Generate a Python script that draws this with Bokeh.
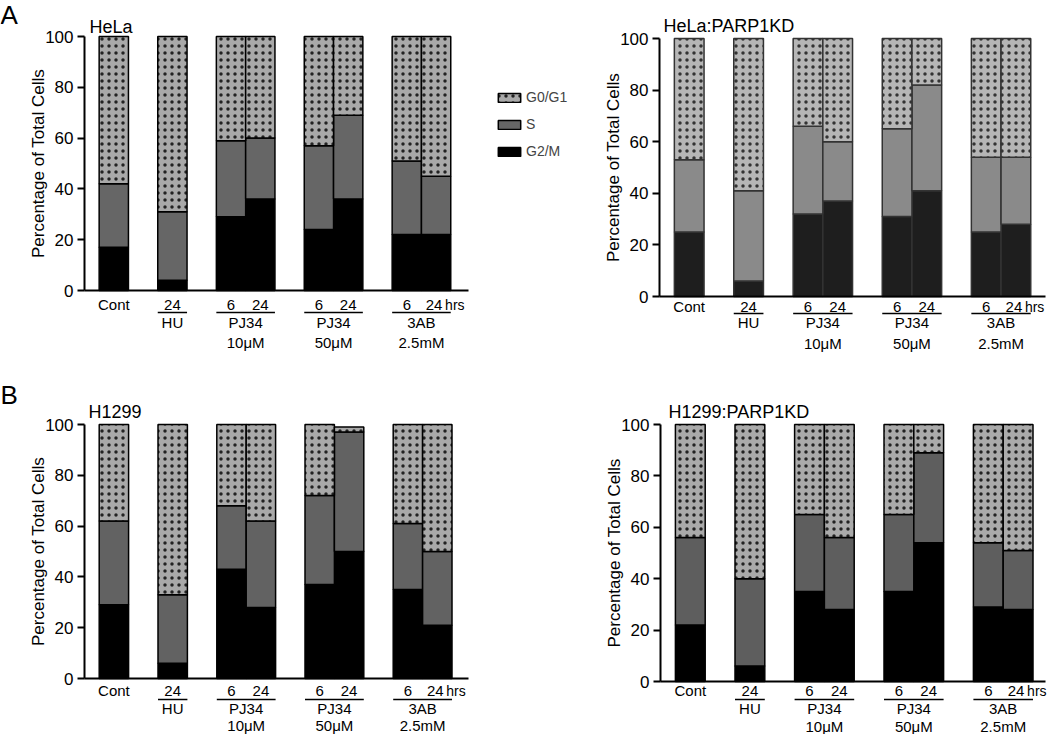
import numpy as np
from bokeh.plotting import figure
from bokeh.layouts import column, row
from bokeh.models import (Range1d, Label, Legend, LegendItem, FixedTicker,
                          ColumnDataSource)
from bokeh.core.properties import value
from bokeh.embed import file_html
from bokeh.resources import INLINE

FONT = "Liberation Sans"

# ---------------- data ----------------
bar_labels = ["Cont", "24", "6", "24", "6", "24", "6", "24"]
bar_group = [0, 1, 2, 2, 3, 3, 4, 4]
group_names = ["", "HU", "PJ34", "PJ34", "3AB"]
group_doses = ["", "", "10μM", "50μM", "2.5mM"]
time_unit = "hrs"
phases = ["G0/G1", "S", "G2/M"]
yticks = [0, 20, 40, 60, 80, 100]
y_title = "Percentage of Total Cells"

hela_g2m = [17, 4, 29, 36, 24, 36, 22, 22]
hela_s = [25, 27, 30, 24, 33, 33, 29, 23]
hela_g01 = [58, 69, 41, 40, 43, 31, 49, 55]

helakd_g2m = [25, 6, 32, 37, 31, 41, 25, 28]
helakd_s = [28, 35, 34, 23, 34, 41, 29, 26]
helakd_g01 = [47, 59, 34, 40, 35, 18, 46, 46]

h1299_g2m = [29, 6, 43, 28, 37, 50, 35, 21]
h1299_s = [33, 27, 25, 34, 35, 47, 26, 29]
h1299_g01 = [38, 67, 32, 38, 28, 2, 39, 50]

h1299kd_g2m = [22, 6, 35, 28, 35, 54, 29, 28]
h1299kd_s = [34, 34, 30, 28, 30, 35, 25, 23]
h1299kd_g01 = [44, 60, 35, 44, 35, 11, 46, 49]


def bar_positions(groups):
    pos, x, prev = [], -1, None
    for g in groups:
        x += 1 if g == prev else 2
        prev = g
        pos.append(x)
    return pos


POS = bar_positions(bar_group)


def make_panel(title, letter, g2m, s, g01, cols, W, H, ax, ax_end, y100, y0,
               bar_px, offs, title_xy, letter_y, ylab_x, legend_xy=None):
    # pixel geometry -> data ranges (frame covers the whole figure)
    sc = (y0 - y100) / 100.0
    px2x = lambda px: (px - ax) / bar_px
    px2y = lambda py: (y0 - py) / sc
    p = figure(width=W, height=H, title=None,
               x_range=Range1d(px2x(0), px2x(W)),
               y_range=Range1d(px2y(H), px2y(0)),
               output_backend="svg", toolbar_location=None,
               min_border_left=0, min_border_right=0,
               min_border_top=0, min_border_bottom=0)
    p.outline_line_color = None
    p.xgrid.visible = False
    p.ygrid.visible = False
    p.background_fill_color = "white"
    p.border_fill_color = "white"

    g2m = np.array(g2m, float)
    s = np.array(s, float)
    g01 = np.array(g01, float)
    src = ColumnDataSource(dict(x=POS, b0=np.zeros(len(POS)), t0=g2m,
                                t1=g2m + s, t2=g2m + s + g01))
    lc = cols["line"]
    r_g2m = p.vbar(x="x", bottom="b0", top="t0", width=1, source=src,
                   fill_color=cols["g2m"], line_color=lc, line_width=1.5)
    r_s = p.vbar(x="x", bottom="t0", top="t1", width=1, source=src,
                 fill_color=cols["s"], line_color=lc, line_width=1.5)
    r_g01 = p.vbar(x="x", bottom="t1", top="t2", width=1, source=src,
                   fill_color=cols["g01"], line_color=lc, line_width=1.5,
                   hatch_pattern="dot", hatch_color=cols["dot"],
                   hatch_scale=7, hatch_weight=0.55)

    # y axis drawn at x = 0
    p.yaxis.fixed_location = 0
    p.yaxis.bounds = (0, 100)
    p.yaxis.ticker = FixedTicker(ticks=yticks)
    p.yaxis.major_label_text_font = FONT
    p.yaxis.major_label_text_font_size = "17px"
    p.yaxis.major_label_text_color = "black"
    p.yaxis.major_label_standoff = 4
    p.yaxis.axis_line_width = 2
    p.yaxis.axis_line_color = "black"
    p.yaxis.major_tick_line_width = 2
    p.yaxis.major_tick_line_color = "black"
    p.yaxis.major_tick_in = 0
    p.yaxis.major_tick_out = 7
    p.yaxis.minor_tick_line_color = None

    # x axis drawn at y = 0
    p.xaxis.fixed_location = 0
    p.xaxis.bounds = (0, px2x(ax_end))
    p.xaxis.ticker = FixedTicker(ticks=[])
    p.xaxis.axis_line_width = 2
    p.xaxis.axis_line_color = "black"
    p.xaxis.major_tick_line_color = None
    p.xaxis.minor_tick_line_color = None

    # y-axis title
    p.add_layout(Label(x=px2x(ylab_x), y=50, text=y_title, angle=np.pi / 2,
                       text_font=FONT, text_font_size="17px",
                       text_align="center", text_baseline="middle",
                       text_color="black"))

    # category labels
    ty = lambda off: px2y(y0 + off)
    n = len(POS)
    lab = ColumnDataSource(dict(x=POS, y=[ty(offs[0])] * n, t=bar_labels,
                                dx=[0] * (n - 1) + [-2]))
    p.text(x="x", y="y", text="t", source=lab, x_offset="dx",
           text_align="center", text_baseline="middle", text_font=value(FONT),
           text_font_size="15px", text_color="black")
    p.text(x=[POS[-1]], y=[ty(offs[0])], text=[time_unit], x_offset=9,
           text_align="left", text_baseline="middle", text_font=value(FONT),
           text_font_size="14px", text_color="black")

    gx0, gx1, gxc, gn, gd = [], [], [], [], []
    for gi, name in enumerate(group_names):
        if not name:
            continue
        xs = [POS[i] for i in range(n) if bar_group[i] == gi]
        gx0.append(min(xs) - 0.5)
        gx1.append(max(xs) + 0.5)
        gxc.append((min(xs) + max(xs)) / 2)
        gn.append(name)
        gd.append(group_doses[gi])
    p.segment(x0=gx0, y0=[ty(offs[1])] * len(gx0), x1=gx1,
              y1=[ty(offs[1])] * len(gx0), line_color="black", line_width=1.5)
    p.text(x=gxc, y=[ty(offs[2])] * len(gxc), text=gn, text_align="center",
           text_baseline="middle", text_font=value(FONT),
           text_font_size="15px", text_color="black")
    p.text(x=gxc, y=[ty(offs[3])] * len(gxc), text=gd, text_align="center",
           text_baseline="middle", text_font=value(FONT),
           text_font_size="15px", text_color="black")

    # title and panel letter
    tx, tyy = title_xy
    p.add_layout(Label(x=px2x(tx), y=px2y(tyy), text=title, text_font=FONT,
                       text_font_size="18px", text_baseline="middle",
                       text_align="left", text_color="black"))
    if letter:
        p.add_layout(Label(x=px2x(0), y=px2y(letter_y), text=letter,
                           text_font=FONT, text_font_size="26px",
                           text_baseline="middle", text_align="left",
                           text_color="black"))

    if legend_xy is not None:
        lx, ltop = legend_xy
        spacing = 7
        leg_h = 3 * 20 + 2 * spacing
        legend = Legend(items=[LegendItem(label=phases[0], renderers=[r_g01]),
                               LegendItem(label=phases[1], renderers=[r_s]),
                               LegendItem(label=phases[2], renderers=[r_g2m])],
                        location=(lx, H - (ltop + leg_h)),
                        glyph_width=28, glyph_height=11, label_height=20,
                        spacing=spacing, padding=0, margin=0, label_standoff=3,
                        label_text_font=FONT, label_text_font_size="14px",
                        border_line_color=None, background_fill_alpha=0)
        p.add_layout(legend)
    return p


cols_a = dict(g01="#a9a9a9", s="#666666", g2m="#000000", line="#000000", dot="#222222")
cols_b = dict(g01="#b6b6b6", s="#8a8a8a", g2m="#1e1e1e", line="#333333", dot="#333333")
cols_c = dict(g01="#a9a9a9", s="#626262", g2m="#000000", line="#000000", dot="#222222")
cols_d = dict(g01="#aaaaaa", s="#5e5e5e", g2m="#000000", line="#000000", dot="#222222")

H1, H2 = 378, 356
WA, WB = 578, 470

pA = make_panel("HeLa", "A", hela_g2m, hela_s, hela_g01, cols_a,
                W=WA, H=H1, ax=84, ax_end=468, y100=36, y0=290, bar_px=29.3,
                offs=(14, 22, 32, 52), title_xy=(89, 26), letter_y=14,
                ylab_x=38, legend_xy=(495, 87))
pB = make_panel("HeLa:PARP1KD", None, helakd_g2m, helakd_s, helakd_g01, cols_b,
                W=WB, H=H1, ax=81, ax_end=467, y100=38, y0=296, bar_px=29.7,
                offs=(10, 17, 26, 47), title_xy=(85, 25), letter_y=None,
                ylab_x=35)
pC = make_panel("H1299", "B", h1299_g2m, h1299_s, h1299_g01, cols_c,
                W=WA, H=H2, ax=84, ax_end=468, y100=46, y0=300, bar_px=29.4,
                offs=(12, 21, 30, 47), title_xy=(88, 33), letter_y=16,
                ylab_x=38)
pD = make_panel("H1299:PARP1KD", None, h1299kd_g2m, h1299kd_s, h1299kd_g01, cols_d,
                W=WB, H=H2, ax=82, ax_end=467, y100=46, y0=303, bar_px=29.8,
                offs=(9, 18, 27, 45), title_xy=(90, 33), letter_y=None,
                ylab_x=36)

layout = column(row(pA, pB, spacing=0), row(pC, pD, spacing=0), spacing=0)

with open("out.html", "w") as f:
    f.write(file_html(layout, INLINE))
